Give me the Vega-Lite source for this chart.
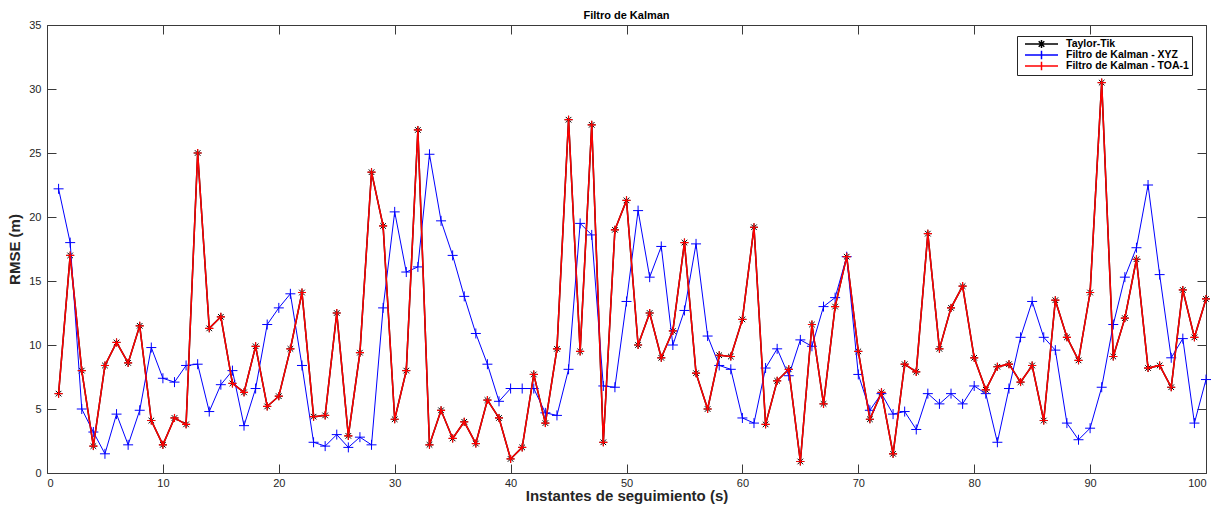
{
  "$schema": "https://vega.github.io/schema/vega-lite/v6.json",
  "width": 1159,
  "height": 448,
  "autosize": {"type": "none"},
  "padding": {"left": 47, "top": 25, "right": 11, "bottom": 33},
  "background": "white",
  "title": {"text": "Filtro de Kalman", "font": "Liberation Sans", "fontSize": 11, "fontWeight": "bold", "color": "#000000", "anchor": "middle", "offset": -2},
  "config": {
    "view": {"stroke": null},
    "axis": {"grid": false, "domainColor": "#3a3a3a", "tickColor": "#3a3a3a", "labelColor": "#262626", "labelFont": "Liberation Sans", "labelFontSize": 11, "titleFont": "Liberation Sans", "titleFontSize": 15, "titleFontWeight": "bold", "titleColor": "#262626", "tickSize": -9, "domainWidth": 1, "tickWidth": 1}
  },
  "data": {"values": [
    {"t":1,"tt":6.2,"xyz":22.2,"toa":6.2},{"t":2,"tt":17.0,"xyz":18.0,"toa":17.0},{"t":3,"tt":8.0,"xyz":5.0,"toa":8.0},{"t":4,"tt":2.1,"xyz":3.2,"toa":2.1},{"t":5,"tt":8.4,"xyz":1.5,"toa":8.4},
    {"t":6,"tt":10.2,"xyz":4.6,"toa":10.2},{"t":7,"tt":8.6,"xyz":2.2,"toa":8.6},{"t":8,"tt":11.5,"xyz":4.9,"toa":11.5},{"t":9,"tt":4.1,"xyz":9.8,"toa":4.1},{"t":10,"tt":2.2,"xyz":7.4,"toa":2.2},
    {"t":11,"tt":4.3,"xyz":7.1,"toa":4.3},{"t":12,"tt":3.8,"xyz":8.4,"toa":3.8},{"t":13,"tt":25.0,"xyz":8.5,"toa":25.0},{"t":14,"tt":11.3,"xyz":4.8,"toa":11.3},{"t":15,"tt":12.2,"xyz":6.9,"toa":12.2},
    {"t":16,"tt":7.0,"xyz":8.0,"toa":7.0},{"t":17,"tt":6.3,"xyz":3.7,"toa":6.3},{"t":18,"tt":9.9,"xyz":6.6,"toa":9.9},{"t":19,"tt":5.2,"xyz":11.6,"toa":5.2},{"t":20,"tt":6.0,"xyz":12.9,"toa":6.0},
    {"t":21,"tt":9.7,"xyz":14.0,"toa":9.7},{"t":22,"tt":14.1,"xyz":8.4,"toa":14.1},{"t":23,"tt":4.4,"xyz":2.4,"toa":4.4},{"t":24,"tt":4.5,"xyz":2.1,"toa":4.5},{"t":25,"tt":12.5,"xyz":3.0,"toa":12.5},
    {"t":26,"tt":2.9,"xyz":2.0,"toa":2.9},{"t":27,"tt":9.4,"xyz":2.8,"toa":9.4},{"t":28,"tt":23.5,"xyz":2.2,"toa":23.5},{"t":29,"tt":19.3,"xyz":12.9,"toa":19.3},{"t":30,"tt":4.2,"xyz":20.4,"toa":4.2},
    {"t":31,"tt":8.0,"xyz":15.7,"toa":8.0},{"t":32,"tt":26.8,"xyz":16.1,"toa":26.8},{"t":33,"tt":2.2,"xyz":24.9,"toa":2.2},{"t":34,"tt":4.9,"xyz":19.7,"toa":4.9},{"t":35,"tt":2.7,"xyz":17.0,"toa":2.7},
    {"t":36,"tt":4.0,"xyz":13.8,"toa":4.0},{"t":37,"tt":2.3,"xyz":10.9,"toa":2.3},{"t":38,"tt":5.7,"xyz":8.5,"toa":5.7},{"t":39,"tt":4.3,"xyz":5.6,"toa":4.3},{"t":40,"tt":1.1,"xyz":6.6,"toa":1.1},
    {"t":41,"tt":2.0,"xyz":6.6,"toa":2.0},{"t":42,"tt":7.7,"xyz":6.6,"toa":7.7},{"t":43,"tt":3.9,"xyz":4.7,"toa":3.9},{"t":44,"tt":9.7,"xyz":4.5,"toa":9.7},{"t":45,"tt":27.6,"xyz":8.1,"toa":27.6},
    {"t":46,"tt":9.5,"xyz":19.5,"toa":9.5},{"t":47,"tt":27.2,"xyz":18.6,"toa":27.2},{"t":48,"tt":2.4,"xyz":6.8,"toa":2.4},{"t":49,"tt":19.0,"xyz":6.7,"toa":19.0},{"t":50,"tt":21.3,"xyz":13.4,"toa":21.3},
    {"t":51,"tt":10.0,"xyz":20.5,"toa":10.0},{"t":52,"tt":12.5,"xyz":15.3,"toa":12.5},{"t":53,"tt":9.0,"xyz":17.7,"toa":9.0},{"t":54,"tt":11.1,"xyz":10.0,"toa":11.1},{"t":55,"tt":18.0,"xyz":12.7,"toa":18.0},
    {"t":56,"tt":7.8,"xyz":17.9,"toa":7.8},{"t":57,"tt":5.0,"xyz":10.7,"toa":5.0},{"t":58,"tt":9.2,"xyz":8.4,"toa":9.2},{"t":59,"tt":9.1,"xyz":8.1,"toa":9.1},{"t":60,"tt":12.0,"xyz":4.3,"toa":12.0},
    {"t":61,"tt":19.2,"xyz":3.9,"toa":19.2},{"t":62,"tt":3.8,"xyz":8.2,"toa":3.8},{"t":63,"tt":7.2,"xyz":9.7,"toa":7.2},{"t":64,"tt":8.1,"xyz":7.6,"toa":8.1},{"t":65,"tt":0.9,"xyz":10.4,"toa":0.9},
    {"t":66,"tt":11.6,"xyz":9.9,"toa":11.6},{"t":67,"tt":5.4,"xyz":13.0,"toa":5.4},{"t":68,"tt":13.0,"xyz":13.7,"toa":13.0},{"t":69,"tt":16.9,"xyz":16.9,"toa":16.9},{"t":70,"tt":9.5,"xyz":7.7,"toa":9.5},
    {"t":71,"tt":4.2,"xyz":4.9,"toa":4.2},{"t":72,"tt":6.3,"xyz":6.2,"toa":6.3},{"t":73,"tt":1.5,"xyz":4.6,"toa":1.5},{"t":74,"tt":8.5,"xyz":4.8,"toa":8.5},{"t":75,"tt":7.9,"xyz":3.4,"toa":7.9},
    {"t":76,"tt":18.7,"xyz":6.2,"toa":18.7},{"t":77,"tt":9.7,"xyz":5.4,"toa":9.7},{"t":78,"tt":12.9,"xyz":6.2,"toa":12.9},{"t":79,"tt":14.6,"xyz":5.4,"toa":14.6},{"t":80,"tt":9.0,"xyz":6.8,"toa":9.0},
    {"t":81,"tt":6.5,"xyz":6.2,"toa":6.5},{"t":82,"tt":8.3,"xyz":2.4,"toa":8.3},{"t":83,"tt":8.5,"xyz":6.6,"toa":8.5},{"t":84,"tt":7.1,"xyz":10.6,"toa":7.1},{"t":85,"tt":8.4,"xyz":13.4,"toa":8.4},
    {"t":86,"tt":4.1,"xyz":10.6,"toa":4.1},{"t":87,"tt":13.5,"xyz":9.6,"toa":13.5},{"t":88,"tt":10.6,"xyz":3.9,"toa":10.6},{"t":89,"tt":8.8,"xyz":2.6,"toa":8.8},{"t":90,"tt":14.1,"xyz":3.5,"toa":14.1},
    {"t":91,"tt":30.5,"xyz":6.7,"toa":30.5},{"t":92,"tt":9.1,"xyz":11.6,"toa":9.1},{"t":93,"tt":12.1,"xyz":15.3,"toa":12.1},{"t":94,"tt":16.7,"xyz":17.6,"toa":16.7},{"t":95,"tt":8.2,"xyz":22.5,"toa":8.2},
    {"t":96,"tt":8.4,"xyz":15.5,"toa":8.4},{"t":97,"tt":6.7,"xyz":9.0,"toa":6.7},{"t":98,"tt":14.3,"xyz":10.5,"toa":14.3},{"t":99,"tt":10.6,"xyz":3.9,"toa":10.6},{"t":100,"tt":13.6,"xyz":7.3,"toa":13.6}
  ]},
  "resolve": {"axis": {"x": "independent", "y": "independent"}},
  "layer": [
    {
      "encoding": {
        "x": {"field": "t", "type": "quantitative", "scale": {"domain": [0, 100], "nice": false}, "axis": {"title": "Instantes de seguimiento (s)", "values": [0,10,20,30,40,50,60,70,80,90,100], "labelPadding": 13, "titlePadding": 0}},
        "y": {"type": "quantitative", "scale": {"domain": [0, 35], "nice": false}, "axis": {"title": "RMSE (m)", "values": [0,5,10,15,20,25,30,35], "labelPadding": 15, "titlePadding": 6}}
      },
      "layer": [
        {"mark": {"type": "line", "strokeWidth": 1.5}, "encoding": {"y": {"field": "tt", "type": "quantitative"}, "color": {"datum": "Taylor-Tik", "type": "nominal", "scale": {"domain": ["Taylor-Tik", "Filtro de Kalman - XYZ", "Filtro de Kalman - TOA-1"], "range": ["#000000", "#0000ff", "#ff0000"]}, "legend": {"title": null, "orient": "none", "legendX": 970, "legendY": 11, "strokeColor": "#262626", "fillColor": "white", "padding": 3, "rowPadding": 0, "clipHeight": 10, "labelFont": "Liberation Sans", "labelFontSize": 10.5, "labelFontWeight": "bold", "labelColor": "#000000", "symbolSize": 1089, "symbolStrokeWidth": 1.5, "symbolOffset": 4, "labelOffset": 7, "encode": {"symbols": {"update": {"size": {"value": 1089}, "strokeWidth": {"value": 1.5}, "shape": {"signal": "datum.value === 'Taylor-Tik' ? 'M-1,0H1M0,-0.24V0.24M-0.24,0H0.24M-0.17,-0.17L0.17,0.17M-0.17,0.17L0.17,-0.17' : 'M-1,0H1M0,-0.26V0.26'"}}}}}}}},
        {"mark": {"type": "point", "shape": "M-1,0H1M0,-1V1M-0.7,-0.7L0.7,0.7M-0.7,0.7L0.7,-0.7", "size": 64, "filled": false, "stroke": "#000000", "strokeWidth": 1, "opacity": 1}, "encoding": {"y": {"field": "tt", "type": "quantitative"}}},
        {"mark": {"type": "line", "strokeWidth": 1}, "encoding": {"y": {"field": "xyz", "type": "quantitative"}, "color": {"datum": "Filtro de Kalman - XYZ", "type": "nominal"}}},
        {"mark": {"type": "point", "shape": "M-1,0H1M0,-1V1", "size": 100, "filled": false, "stroke": "#0000ff", "strokeWidth": 1, "opacity": 1}, "encoding": {"y": {"field": "xyz", "type": "quantitative"}}},
        {"mark": {"type": "line", "strokeWidth": 1.5}, "encoding": {"y": {"field": "toa", "type": "quantitative"}, "color": {"datum": "Filtro de Kalman - TOA-1", "type": "nominal"}}},
        {"mark": {"type": "point", "shape": "M-1,0H1M0,-1V1", "size": 64, "filled": false, "stroke": "#ff0000", "strokeWidth": 1.2, "opacity": 1}, "encoding": {"y": {"field": "toa", "type": "quantitative"}}}
      ]
    },
    {
      "mark": {"type": "line", "opacity": 0},
      "encoding": {
        "x": {"field": "t", "type": "quantitative", "axis": {"orient": "top", "title": null, "labels": false, "values": [0,10,20,30,40,50,60,70,80,90,100]}},
        "y": {"field": "tt", "type": "quantitative", "axis": {"orient": "right", "title": null, "labels": false, "values": [0,5,10,15,20,25,30,35]}}
      }
    }
  ]
}
